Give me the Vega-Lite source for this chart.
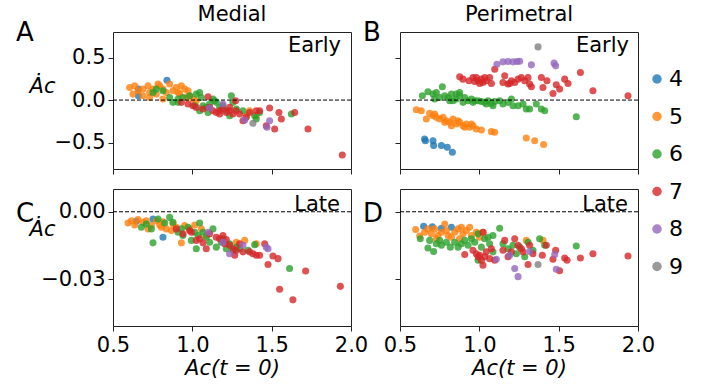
{
  "$schema": "https://vega.github.io/schema/vega-lite/v6.json",
  "padding": {"left": 15, "top": 3, "right": 5, "bottom": 5},
  "background": "white",
  "config": {
    "font": "DejaVu Sans",
    "view": {"stroke": "#222", "strokeWidth": 1},
    "axis": {"grid": false, "domain": false, "tickColor": "#222", "tickSize": 5, "labelFontSize": 21, "labelColor": "black", "labelFont": "DejaVu Sans", "labelFlush": false, "titleFont": "DejaVu Sans", "titleFontSize": 21, "titleColor": "black", "titleFontWeight": "normal", "labelPadding": 3},
    "title": {"fontSize": 21, "fontWeight": "normal", "anchor": "middle", "frame": "group", "baseline": "alphabetic", "offset": 10, "dy": 15, "color": "black", "font": "DejaVu Sans"},
    "legend": {"orient": "none", "legendX": 533, "legendY": 36, "symbolType": "circle", "symbolSize": 90, "labelFontSize": 22, "labelFont": "DejaVu Sans", "labelColor": "black", "rowPadding": 15.5, "labelOffset": 1, "symbolOpacity": 0.8, "symbolStrokeWidth": 0}
  },
  "datasets": {
    "A": [
      {"x":0.66,"y":0.129,"n":4},{"x":0.66,"y":0.051,"n":4},{"x":0.84,"y":0.234,"n":4},
      {"x":0.605,"y":0.148,"n":5},{"x":0.626,"y":0.070,"n":5},{"x":0.658,"y":0.109,"n":5},{"x":0.689,"y":0.129,"n":5},{"x":0.721,"y":0.168,"n":5},{"x":0.731,"y":0.090,"n":5},{"x":0.752,"y":0.129,"n":5},{"x":0.773,"y":0.070,"n":5},{"x":0.794,"y":0.168,"n":5},{"x":0.815,"y":0.129,"n":5},{"x":0.836,"y":0.090,"n":5},{"x":0.857,"y":0.188,"n":5},{"x":0.878,"y":0.109,"n":5},{"x":0.899,"y":0.148,"n":5},{"x":0.920,"y":0.070,"n":5},{"x":0.931,"y":0.168,"n":5},{"x":0.952,"y":0.129,"n":5},{"x":0.962,"y":0.031,"n":5},{"x":0.983,"y":0.051,"n":5},{"x":0.815,"y":0.012,"n":5},{"x":0.731,"y":0.031,"n":5},{"x":0.689,"y":0.051,"n":5},{"x":1.004,"y":0.012,"n":5},{"x":1.025,"y":-0.008,"n":5},{"x":1.361,"y":-0.125,"n":5},{"x":1.403,"y":-0.184,"n":5},{"x":1.340,"y":-0.184,"n":5},{"x":0.784,"y":0.188,"n":5},{"x":0.637,"y":0.168,"n":5},{"x":0.910,"y":0.090,"n":5},{"x":0.973,"y":0.109,"n":5},
      {"x":0.752,"y":0.090,"n":6},{"x":0.773,"y":0.129,"n":6},{"x":0.815,"y":0.109,"n":6},{"x":0.857,"y":0.031,"n":6},{"x":0.878,"y":-0.027,"n":6},{"x":0.910,"y":-0.027,"n":6},{"x":0.941,"y":0.031,"n":6},{"x":0.983,"y":0.051,"n":6},{"x":1.015,"y":-0.066,"n":6},{"x":1.025,"y":0.070,"n":6},{"x":1.046,"y":0.090,"n":6},{"x":1.057,"y":0.031,"n":6},{"x":1.067,"y":-0.066,"n":6},{"x":1.088,"y":-0.086,"n":6},{"x":1.109,"y":-0.047,"n":6},{"x":1.130,"y":0.012,"n":6},{"x":1.151,"y":-0.027,"n":6},{"x":1.172,"y":-0.086,"n":6},{"x":1.193,"y":-0.066,"n":6},{"x":1.214,"y":-0.125,"n":6},{"x":1.235,"y":-0.184,"n":6},{"x":1.246,"y":0.051,"n":6},{"x":1.256,"y":-0.027,"n":6},{"x":1.277,"y":-0.105,"n":6},{"x":1.319,"y":-0.125,"n":6},{"x":1.393,"y":-0.184,"n":6},{"x":1.403,"y":-0.223,"n":6},{"x":1.424,"y":-0.145,"n":6},{"x":1.624,"y":-0.164,"n":6},{"x":1.046,"y":-0.125,"n":6},{"x":1.099,"y":-0.145,"n":6},{"x":1.141,"y":-0.008,"n":6},{"x":0.910,"y":0.012,"n":6},
      {"x":0.931,"y":-0.027,"n":7},{"x":0.973,"y":-0.047,"n":7},{"x":1.004,"y":-0.066,"n":7},{"x":1.025,"y":-0.086,"n":7},{"x":1.067,"y":-0.105,"n":7},{"x":1.099,"y":0.039,"n":7},{"x":1.109,"y":-0.086,"n":7},{"x":1.130,"y":-0.125,"n":7},{"x":1.151,"y":-0.145,"n":7},{"x":1.172,"y":-0.125,"n":7},{"x":1.193,"y":-0.105,"n":7},{"x":1.214,"y":-0.145,"n":7},{"x":1.235,"y":-0.125,"n":7},{"x":1.256,"y":-0.164,"n":7},{"x":1.273,"y":-0.008,"n":7},{"x":1.277,"y":-0.125,"n":7},{"x":1.298,"y":-0.164,"n":7},{"x":1.319,"y":-0.242,"n":7},{"x":1.340,"y":-0.203,"n":7},{"x":1.361,"y":-0.145,"n":7},{"x":1.403,"y":-0.125,"n":7},{"x":1.424,"y":-0.125,"n":7},{"x":1.466,"y":-0.301,"n":7},{"x":1.487,"y":-0.094,"n":7},{"x":1.519,"y":-0.340,"n":7},{"x":1.546,"y":-0.145,"n":7},{"x":1.561,"y":-0.223,"n":7},{"x":1.645,"y":-0.145,"n":7},{"x":1.729,"y":-0.340,"n":7},{"x":1.945,"y":-0.645,"n":7},{"x":1.235,"y":-0.086,"n":7},{"x":1.172,"y":-0.164,"n":7},
      {"x":1.109,"y":-0.094,"n":8},{"x":1.193,"y":-0.047,"n":8},{"x":1.330,"y":-0.234,"n":8},{"x":1.487,"y":-0.242,"n":8},{"x":1.47,"y":-0.32,"n":8},
      {"x":1.382,"y":-0.273,"n":9}
    ],
    "B": [
      {"x":0.655,"y":-0.457,"n":4},{"x":0.660,"y":-0.477,"n":4},{"x":0.708,"y":-0.477,"n":4},{"x":0.712,"y":-0.535,"n":4},{"x":0.761,"y":-0.535,"n":4},{"x":0.798,"y":-0.555,"n":4},{"x":0.830,"y":-0.613,"n":4},
      {"x":0.603,"y":-0.113,"n":5},{"x":0.634,"y":-0.125,"n":5},{"x":0.666,"y":-0.223,"n":5},{"x":0.687,"y":-0.156,"n":5},{"x":0.708,"y":-0.184,"n":5},{"x":0.729,"y":-0.203,"n":5},{"x":0.750,"y":-0.223,"n":5},{"x":0.771,"y":-0.203,"n":5},{"x":0.792,"y":-0.242,"n":5},{"x":0.813,"y":-0.262,"n":5},{"x":0.834,"y":-0.223,"n":5},{"x":0.855,"y":-0.281,"n":5},{"x":0.876,"y":-0.262,"n":5},{"x":0.897,"y":-0.301,"n":5},{"x":0.918,"y":-0.281,"n":5},{"x":0.939,"y":-0.320,"n":5},{"x":0.960,"y":-0.301,"n":5},{"x":0.981,"y":-0.340,"n":5},{"x":1.013,"y":-0.352,"n":5},{"x":1.076,"y":-0.371,"n":5},{"x":1.097,"y":-0.379,"n":5},{"x":1.296,"y":-0.445,"n":5},{"x":1.349,"y":-0.477,"n":5},{"x":1.405,"y":-0.523,"n":5},{"x":0.782,"y":-0.262,"n":5},{"x":0.824,"y":-0.301,"n":5},{"x":0.718,"y":-0.164,"n":5},{"x":0.866,"y":-0.242,"n":5},{"x":0.908,"y":-0.320,"n":5},{"x":0.950,"y":-0.281,"n":5},
      {"x":0.641,"y":0.051,"n":6},{"x":0.676,"y":0.098,"n":6},{"x":0.708,"y":0.070,"n":6},{"x":0.718,"y":0.012,"n":6},{"x":0.750,"y":0.031,"n":6},{"x":0.767,"y":0.156,"n":6},{"x":0.782,"y":0.051,"n":6},{"x":0.803,"y":0.031,"n":6},{"x":0.824,"y":0.070,"n":6},{"x":0.834,"y":-0.008,"n":6},{"x":0.855,"y":0.012,"n":6},{"x":0.876,"y":0.051,"n":6},{"x":0.897,"y":-0.027,"n":6},{"x":0.908,"y":0.031,"n":6},{"x":0.929,"y":-0.008,"n":6},{"x":0.950,"y":0.012,"n":6},{"x":0.971,"y":-0.008,"n":6},{"x":0.992,"y":-0.008,"n":6},{"x":1.013,"y":-0.016,"n":6},{"x":1.034,"y":-0.027,"n":6},{"x":1.055,"y":-0.008,"n":6},{"x":1.076,"y":-0.039,"n":6},{"x":1.097,"y":-0.016,"n":6},{"x":1.128,"y":-0.008,"n":6},{"x":1.149,"y":-0.047,"n":6},{"x":1.181,"y":-0.027,"n":6},{"x":1.202,"y":0.012,"n":6},{"x":1.212,"y":-0.066,"n":6},{"x":1.244,"y":-0.066,"n":6},{"x":1.275,"y":-0.047,"n":6},{"x":1.296,"y":-0.105,"n":6},{"x":1.317,"y":-0.105,"n":6},{"x":1.359,"y":-0.047,"n":6},{"x":1.391,"y":-0.105,"n":6},{"x":1.412,"y":-0.125,"n":6},{"x":1.611,"y":-0.195,"n":6},{"x":0.813,"y":-0.008,"n":6},{"x":0.876,"y":0.090,"n":6},{"x":1.086,"y":-0.066,"n":6},{"x":0.729,"y":0.090,"n":6},{"x":0.960,"y":-0.027,"n":6},{"x":1.044,"y":-0.047,"n":6},{"x":0.855,"y":0.070,"n":6},
      {"x":0.876,"y":0.273,"n":7},{"x":0.897,"y":0.246,"n":7},{"x":0.935,"y":0.227,"n":7},{"x":0.960,"y":0.266,"n":7},{"x":0.981,"y":0.266,"n":7},{"x":0.992,"y":0.227,"n":7},{"x":1.013,"y":0.246,"n":7},{"x":1.023,"y":0.207,"n":7},{"x":1.044,"y":0.227,"n":7},{"x":1.065,"y":0.266,"n":7},{"x":1.076,"y":0.195,"n":7},{"x":1.002,"y":0.195,"n":7},{"x":1.097,"y":0.363,"n":7},{"x":1.160,"y":0.285,"n":7},{"x":1.149,"y":0.207,"n":7},{"x":1.181,"y":0.188,"n":7},{"x":1.202,"y":0.227,"n":7},{"x":1.223,"y":0.207,"n":7},{"x":1.244,"y":0.246,"n":7},{"x":1.265,"y":0.266,"n":7},{"x":1.286,"y":0.227,"n":7},{"x":1.307,"y":0.266,"n":7},{"x":1.317,"y":0.188,"n":7},{"x":1.328,"y":0.156,"n":7},{"x":1.391,"y":0.266,"n":7},{"x":1.401,"y":0.148,"n":7},{"x":1.426,"y":0.227,"n":7},{"x":1.464,"y":0.078,"n":7},{"x":1.485,"y":0.180,"n":7},{"x":1.506,"y":0.129,"n":7},{"x":1.538,"y":0.246,"n":7},{"x":1.559,"y":0.195,"n":7},{"x":1.637,"y":0.324,"n":7},{"x":1.716,"y":0.109,"n":7},{"x":1.937,"y":0.051,"n":7},{"x":1.034,"y":0.266,"n":7},{"x":0.971,"y":0.219,"n":7},{"x":1.191,"y":0.195,"n":7},
      {"x":1.111,"y":0.422,"n":8},{"x":1.149,"y":0.449,"n":8},{"x":1.181,"y":0.453,"n":8},{"x":1.212,"y":0.449,"n":8},{"x":1.237,"y":0.453,"n":8},{"x":1.254,"y":0.457,"n":8},{"x":1.328,"y":0.414,"n":8},{"x":1.471,"y":0.434,"n":8},{"x":1.481,"y":0.402,"n":8},
      {"x":1.370,"y":0.625,"n":9}
    ],
    "C": [
      {"x":0.647,"y":-0.0042,"n":4},{"x":0.815,"y":-0.0113,"n":4},{"x":0.752,"y":-0.0032,"n":4},
      {"x":0.595,"y":-0.0050,"n":5},{"x":0.616,"y":-0.0040,"n":5},{"x":0.637,"y":-0.0059,"n":5},{"x":0.658,"y":-0.0035,"n":5},{"x":0.689,"y":-0.0047,"n":5},{"x":0.710,"y":-0.0040,"n":5},{"x":0.721,"y":-0.0076,"n":5},{"x":0.742,"y":-0.0061,"n":5},{"x":0.773,"y":-0.0040,"n":5},{"x":0.794,"y":-0.0059,"n":5},{"x":0.805,"y":-0.0069,"n":5},{"x":0.815,"y":-0.0044,"n":5},{"x":0.836,"y":-0.0076,"n":5},{"x":0.868,"y":-0.0083,"n":5},{"x":0.878,"y":-0.0054,"n":5},{"x":0.899,"y":-0.0069,"n":5},{"x":0.931,"y":-0.0138,"n":5},{"x":0.952,"y":-0.0061,"n":5},{"x":0.983,"y":-0.0076,"n":5},{"x":1.015,"y":-0.0059,"n":5},{"x":1.057,"y":-0.0076,"n":5},{"x":1.088,"y":-0.0105,"n":5},{"x":1.277,"y":-0.0135,"n":5},{"x":1.330,"y":-0.0127,"n":5},{"x":1.403,"y":-0.0142,"n":5},
      {"x":0.679,"y":-0.0069,"n":6},{"x":0.710,"y":-0.0054,"n":6},{"x":0.742,"y":-0.0076,"n":6},{"x":0.752,"y":-0.0138,"n":6},{"x":0.784,"y":-0.0032,"n":6},{"x":0.826,"y":-0.0050,"n":6},{"x":0.857,"y":-0.0025,"n":6},{"x":0.878,"y":-0.0047,"n":6},{"x":0.910,"y":-0.0091,"n":6},{"x":0.931,"y":-0.0076,"n":6},{"x":0.941,"y":-0.0105,"n":6},{"x":0.973,"y":-0.0069,"n":6},{"x":0.994,"y":-0.0127,"n":6},{"x":1.015,"y":-0.0091,"n":6},{"x":1.025,"y":-0.0164,"n":6},{"x":1.036,"y":-0.0105,"n":6},{"x":1.046,"y":-0.0050,"n":6},{"x":1.067,"y":-0.0091,"n":6},{"x":1.088,"y":-0.0113,"n":6},{"x":1.109,"y":-0.0135,"n":6},{"x":1.130,"y":-0.0076,"n":6},{"x":1.151,"y":-0.0157,"n":6},{"x":1.183,"y":-0.0135,"n":6},{"x":1.193,"y":-0.0120,"n":6},{"x":1.214,"y":-0.0164,"n":6},{"x":1.235,"y":-0.0142,"n":6},{"x":1.256,"y":-0.0171,"n":6},{"x":1.277,"y":-0.0157,"n":6},{"x":1.298,"y":-0.0164,"n":6},{"x":1.351,"y":-0.0171,"n":6},{"x":1.393,"y":-0.0146,"n":6},{"x":1.613,"y":-0.0252,"n":6},
      {"x":0.899,"y":-0.0076,"n":7},{"x":0.941,"y":-0.0098,"n":7},{"x":0.983,"y":-0.0083,"n":7},{"x":0.994,"y":-0.0091,"n":7},{"x":1.025,"y":-0.0127,"n":7},{"x":1.046,"y":-0.0120,"n":7},{"x":1.067,"y":-0.0138,"n":7},{"x":1.088,"y":-0.0164,"n":7},{"x":1.109,"y":-0.0098,"n":7},{"x":1.151,"y":-0.0113,"n":7},{"x":1.172,"y":-0.0120,"n":7},{"x":1.193,"y":-0.0105,"n":7},{"x":1.204,"y":-0.0142,"n":7},{"x":1.214,"y":-0.0123,"n":7},{"x":1.235,"y":-0.0149,"n":7},{"x":1.256,"y":-0.0164,"n":7},{"x":1.267,"y":-0.0193,"n":7},{"x":1.277,"y":-0.0171,"n":7},{"x":1.298,"y":-0.0142,"n":7},{"x":1.319,"y":-0.0178,"n":7},{"x":1.361,"y":-0.0178,"n":7},{"x":1.382,"y":-0.0186,"n":7},{"x":1.403,"y":-0.0193,"n":7},{"x":1.424,"y":-0.0193,"n":7},{"x":1.456,"y":-0.0142,"n":7},{"x":1.477,"y":-0.0234,"n":7},{"x":1.508,"y":-0.0196,"n":7},{"x":1.540,"y":-0.0208,"n":7},{"x":1.550,"y":-0.0344,"n":7},{"x":1.634,"y":-0.0391,"n":7},{"x":1.714,"y":-0.0263,"n":7},{"x":1.933,"y":-0.0331,"n":7},
      {"x":1.099,"y":-0.0091,"n":8},{"x":1.193,"y":-0.0135,"n":8},{"x":1.235,"y":-0.0186,"n":8},{"x":1.319,"y":-0.0149,"n":8},{"x":1.477,"y":-0.0164,"n":8},{"x":1.466,"y":-0.0157,"n":8}
    ],
    "D": [
      {"x":0.649,"y":-0.0064,"n":4},{"x":0.704,"y":-0.0067,"n":4},{"x":0.761,"y":-0.0073,"n":4},{"x":0.824,"y":-0.0069,"n":4},
      {"x":0.599,"y":-0.0079,"n":5},{"x":0.624,"y":-0.0108,"n":5},{"x":0.655,"y":-0.0091,"n":5},{"x":0.676,"y":-0.0076,"n":5},{"x":0.697,"y":-0.0098,"n":5},{"x":0.718,"y":-0.0076,"n":5},{"x":0.739,"y":-0.0105,"n":5},{"x":0.761,"y":-0.0091,"n":5},{"x":0.782,"y":-0.0054,"n":5},{"x":0.792,"y":-0.0083,"n":5},{"x":0.803,"y":-0.0105,"n":5},{"x":0.824,"y":-0.0113,"n":5},{"x":0.845,"y":-0.0091,"n":5},{"x":0.866,"y":-0.0076,"n":5},{"x":0.887,"y":-0.0069,"n":5},{"x":0.897,"y":-0.0098,"n":5},{"x":0.918,"y":-0.0083,"n":5},{"x":0.939,"y":-0.0069,"n":5},{"x":0.950,"y":-0.0105,"n":5},{"x":0.981,"y":-0.0091,"n":5},{"x":1.002,"y":-0.0113,"n":5},{"x":1.023,"y":-0.0091,"n":5},{"x":1.296,"y":-0.0127,"n":5},{"x":1.401,"y":-0.0127,"n":5},{"x":0.729,"y":-0.0120,"n":5},{"x":0.876,"y":-0.0120,"n":5},
      {"x":0.628,"y":-0.0120,"n":6},{"x":0.676,"y":-0.0161,"n":6},{"x":0.687,"y":-0.0127,"n":6},{"x":0.712,"y":-0.0176,"n":6},{"x":0.729,"y":-0.0142,"n":6},{"x":0.750,"y":-0.0127,"n":6},{"x":0.761,"y":-0.0149,"n":6},{"x":0.792,"y":-0.0135,"n":6},{"x":0.817,"y":-0.0157,"n":6},{"x":0.845,"y":-0.0135,"n":6},{"x":0.866,"y":-0.0157,"n":6},{"x":0.887,"y":-0.0142,"n":6},{"x":0.908,"y":-0.0127,"n":6},{"x":0.929,"y":-0.0149,"n":6},{"x":0.950,"y":-0.0120,"n":6},{"x":0.971,"y":-0.0135,"n":6},{"x":0.992,"y":-0.0098,"n":6},{"x":1.013,"y":-0.0157,"n":6},{"x":1.034,"y":-0.0120,"n":6},{"x":1.055,"y":-0.0113,"n":6},{"x":1.065,"y":-0.0142,"n":6},{"x":1.086,"y":-0.0105,"n":6},{"x":1.128,"y":-0.0073,"n":6},{"x":1.149,"y":-0.0142,"n":6},{"x":1.181,"y":-0.0164,"n":6},{"x":1.212,"y":-0.0149,"n":6},{"x":1.233,"y":-0.0186,"n":6},{"x":1.254,"y":-0.0157,"n":6},{"x":1.286,"y":-0.0200,"n":6},{"x":1.307,"y":-0.0135,"n":6},{"x":1.338,"y":-0.0171,"n":6},{"x":1.380,"y":-0.0120,"n":6},{"x":1.412,"y":-0.0149,"n":6},{"x":1.611,"y":-0.0152,"n":6},{"x":0.992,"y":-0.0215,"n":6},{"x":1.086,"y":-0.0178,"n":6},
      {"x":0.908,"y":-0.0190,"n":7},{"x":0.960,"y":-0.0171,"n":7},{"x":0.981,"y":-0.0186,"n":7},{"x":0.992,"y":-0.0200,"n":7},{"x":1.002,"y":-0.0193,"n":7},{"x":1.013,"y":-0.0215,"n":7},{"x":1.023,"y":-0.0237,"n":7},{"x":1.034,"y":-0.0200,"n":7},{"x":1.044,"y":-0.0178,"n":7},{"x":1.065,"y":-0.0208,"n":7},{"x":1.076,"y":-0.0164,"n":7},{"x":1.097,"y":-0.0215,"n":7},{"x":1.149,"y":-0.0171,"n":7},{"x":1.160,"y":-0.0127,"n":7},{"x":1.181,"y":-0.0200,"n":7},{"x":1.202,"y":-0.0178,"n":7},{"x":1.223,"y":-0.0120,"n":7},{"x":1.244,"y":-0.0149,"n":7},{"x":1.265,"y":-0.0164,"n":7},{"x":1.275,"y":-0.0178,"n":7},{"x":1.307,"y":-0.0234,"n":7},{"x":1.317,"y":-0.0149,"n":7},{"x":1.338,"y":-0.0186,"n":7},{"x":1.397,"y":-0.0193,"n":7},{"x":1.422,"y":-0.0149,"n":7},{"x":1.464,"y":-0.0211,"n":7},{"x":1.481,"y":-0.0171,"n":7},{"x":1.506,"y":-0.0262,"n":7},{"x":1.538,"y":-0.0205,"n":7},{"x":1.553,"y":-0.0215,"n":7},{"x":1.637,"y":-0.0205,"n":7},{"x":1.716,"y":-0.0186,"n":7},{"x":1.937,"y":-0.0196,"n":7},{"x":1.023,"y":-0.0091,"n":7},
      {"x":1.107,"y":-0.0211,"n":8},{"x":1.191,"y":-0.0193,"n":8},{"x":1.223,"y":-0.0252,"n":8},{"x":1.244,"y":-0.0288,"n":8},{"x":1.317,"y":-0.0176,"n":8},{"x":1.475,"y":-0.0190,"n":8},{"x":1.485,"y":-0.0255,"n":8},
      {"x":1.370,"y":-0.0234,"n":9}
    ],
    "one": [{}]
  },
  "columns": 2,
  "spacing": {"row": 20, "column": 49},
  "bounds": "flush",
  "concat": [
    {
      "width": 238, "height": 137,
      "title": {"text": "Medial"},
      "layer": [
        {"data": {"name": "A"},
         "mark": {"type": "circle", "size": 50, "opacity": 0.8},
         "encoding": {
           "x": {"field": "x", "type": "quantitative", "scale": {"domain": [0.5, 2.0], "nice": false, "zero": false}, "axis": {"values": [0.5, 1, 1.5, 2], "labels": false, "title": null}},
           "y": {"field": "y", "type": "quantitative", "scale": {"domain": [-0.81, 0.8], "nice": false, "zero": false}, "axis": {"values": [-0.5, 0, 0.5], "format": ".1f", "title": "Ȧc", "titleAngle": 0, "titleAlign": "right", "titleBaseline": "alphabetic", "titleX": -58, "titleY": 60, "titleFontStyle": "italic"}},
           "color": {"field": "n", "type": "nominal", "scale": {"domain": [4, 5, 6, 7, 8, 9], "range": ["#1f77b4", "#ff7f0e", "#2ca02c", "#d62728", "#9467bd", "#7f7f7f"]}, "legend": {"title": null}}
         }},
        {"data": {"name": "one"}, "mark": {"type": "rule", "strokeDash": [4, 2], "color": "black", "strokeWidth": 1}, "encoding": {"y": {"datum": 0}}},
        {"data": {"name": "one"}, "mark": {"type": "text", "text": "Early", "align": "right", "baseline": "alphabetic", "dx": -10, "dy": 20, "fontSize": 21, "font": "DejaVu Sans"}, "encoding": {"x": {"datum": 2.0}, "y": {"datum": 0.8}}},
        {"data": {"name": "one"}, "mark": {"type": "text", "text": "A", "align": "left", "baseline": "alphabetic", "dx": -97, "dy": 9, "fontSize": 26, "font": "DejaVu Sans"}, "encoding": {"x": {"datum": 0.5}, "y": {"datum": 0.8}}}
      ]
    },
    {
      "width": 238, "height": 137,
      "title": {"text": "Perimetral"},
      "layer": [
        {"data": {"name": "B"},
         "mark": {"type": "circle", "size": 50, "opacity": 0.8},
         "encoding": {
           "x": {"field": "x", "type": "quantitative", "scale": {"domain": [0.5, 2.0], "nice": false, "zero": false}, "axis": {"values": [0.5, 1, 1.5, 2], "labels": false, "title": null}},
           "y": {"field": "y", "type": "quantitative", "scale": {"domain": [-0.81, 0.8], "nice": false, "zero": false}, "axis": {"values": [-0.5, 0, 0.5], "labels": false, "title": null}},
           "color": {"field": "n", "type": "nominal", "scale": {"domain": [4, 5, 6, 7, 8, 9], "range": ["#1f77b4", "#ff7f0e", "#2ca02c", "#d62728", "#9467bd", "#7f7f7f"]}, "legend": {"title": null}}
         }},
        {"data": {"name": "one"}, "mark": {"type": "rule", "strokeDash": [4, 2], "color": "black", "strokeWidth": 1}, "encoding": {"y": {"datum": 0}}},
        {"data": {"name": "one"}, "mark": {"type": "text", "text": "Early", "align": "right", "baseline": "alphabetic", "dx": -9, "dy": 20, "fontSize": 21, "font": "DejaVu Sans"}, "encoding": {"x": {"datum": 2.0}, "y": {"datum": 0.8}}},
        {"data": {"name": "one"}, "mark": {"type": "text", "text": "B", "align": "left", "baseline": "alphabetic", "dx": -37, "dy": 9, "fontSize": 26, "font": "DejaVu Sans"}, "encoding": {"x": {"datum": 0.5}, "y": {"datum": 0.8}}}
      ]
    },
    {
      "width": 238, "height": 137,
      "layer": [
        {"data": {"name": "C"},
         "mark": {"type": "circle", "size": 50, "opacity": 0.8},
         "encoding": {
           "x": {"field": "x", "type": "quantitative", "scale": {"domain": [0.5, 2.0], "nice": false, "zero": false}, "axis": {"values": [0.5, 1, 1.5, 2], "format": ".1f", "title": "Ac(t = 0)", "titleFontStyle": "italic", "titlePadding": 2}},
           "y": {"field": "y", "type": "quantitative", "scale": {"domain": [-0.0507, 0.0101], "nice": false, "zero": false}, "axis": {"values": [-0.03, 0], "format": ".2f", "title": "Ȧc", "titleAngle": 0, "titleAlign": "right", "titleBaseline": "alphabetic", "titleX": -58, "titleY": 46, "titleFontStyle": "italic"}},
           "color": {"field": "n", "type": "nominal", "scale": {"domain": [4, 5, 6, 7, 8, 9], "range": ["#1f77b4", "#ff7f0e", "#2ca02c", "#d62728", "#9467bd", "#7f7f7f"]}, "legend": {"title": null}}
         }},
        {"data": {"name": "one"}, "mark": {"type": "rule", "strokeDash": [4, 2], "color": "black", "strokeWidth": 1}, "encoding": {"y": {"datum": 0}}},
        {"data": {"name": "one"}, "mark": {"type": "text", "text": "Late", "align": "right", "baseline": "alphabetic", "dx": -11, "dy": -1, "fontSize": 21, "font": "DejaVu Sans"}, "encoding": {"x": {"datum": 2.0}, "y": {"datum": 0}}},
        {"data": {"name": "one"}, "mark": {"type": "text", "text": "C", "align": "left", "baseline": "alphabetic", "dx": -97, "dy": 10, "fontSize": 26, "font": "DejaVu Sans"}, "encoding": {"x": {"datum": 0.5}, "y": {"datum": 0}}}
      ]
    },
    {
      "width": 238, "height": 137,
      "layer": [
        {"data": {"name": "D"},
         "mark": {"type": "circle", "size": 50, "opacity": 0.8},
         "encoding": {
           "x": {"field": "x", "type": "quantitative", "scale": {"domain": [0.5, 2.0], "nice": false, "zero": false}, "axis": {"values": [0.5, 1, 1.5, 2], "format": ".1f", "title": "Ac(t = 0)", "titleFontStyle": "italic", "titlePadding": 2}},
           "y": {"field": "y", "type": "quantitative", "scale": {"domain": [-0.0507, 0.0101], "nice": false, "zero": false}, "axis": {"values": [-0.03, 0], "labels": false, "title": null}},
           "color": {"field": "n", "type": "nominal", "scale": {"domain": [4, 5, 6, 7, 8, 9], "range": ["#1f77b4", "#ff7f0e", "#2ca02c", "#d62728", "#9467bd", "#7f7f7f"]}, "legend": {"title": null}}
         }},
        {"data": {"name": "one"}, "mark": {"type": "rule", "strokeDash": [4, 2], "color": "black", "strokeWidth": 1}, "encoding": {"y": {"datum": 0}}},
        {"data": {"name": "one"}, "mark": {"type": "text", "text": "Late", "align": "right", "baseline": "alphabetic", "dx": -10, "dy": -1, "fontSize": 21, "font": "DejaVu Sans"}, "encoding": {"x": {"datum": 2.0}, "y": {"datum": 0}}},
        {"data": {"name": "one"}, "mark": {"type": "text", "text": "D", "align": "left", "baseline": "alphabetic", "dx": -37, "dy": 10, "fontSize": 26, "font": "DejaVu Sans"}, "encoding": {"x": {"datum": 0.5}, "y": {"datum": 0}}}
      ]
    }
  ]
}
